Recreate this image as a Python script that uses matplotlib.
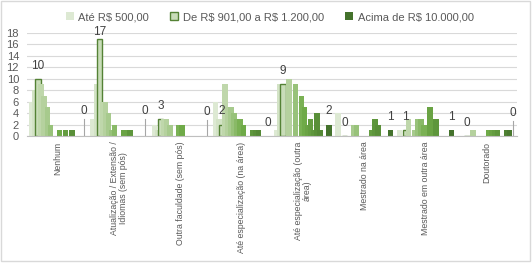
import matplotlib
matplotlib.use("Agg")
import matplotlib.pyplot as plt
from matplotlib.colors import LinearSegmentedColormap
from matplotlib.patches import Patch, Rectangle

plt.rcParams["font.family"] = ["Liberation Sans", "DejaVu Sans"]
plt.rcParams["text.parse_math"] = False  # "R$" sem mathtext

# categorias (escolaridade)
categorias = [
    "Nenhum",
    "Atualização / Extensão /\nIdiomas (sem pós)",
    "Outra faculdade (sem pós)",
    "Até especialização (na área)",
    "Até especialização (outra\nárea)",
    "Mestrado na área",
    "Mestrado em outra área",
    "Doutorado",
]

# faixas salariais (séries)
faixas = [
    "Até R$ 500,00",
    "De R$ 501,00 a R$ 900,00",
    "De R$ 901,00 a R$ 1.200,00",
    "De R$ 1.201,00 a R$ 1.500,00",
    "De R$ 1.501,00 a R$ 2.000,00",
    "De R$ 2.001,00 a R$ 2.500,00",
    "De R$ 2.501,00 a R$ 3.000,00",
    "De R$ 3.001,00 a R$ 3.500,00",
    "De R$ 3.501,00 a R$ 4.000,00",
    "De R$ 4.001,00 a R$ 4.500,00",
    "De R$ 4.501,00 a R$ 5.000,00",
    "De R$ 5.001,00 a R$ 6.000,00",
    "De R$ 6.001,00 a R$ 7.000,00",
    "De R$ 7.001,00 a R$ 8.000,00",
    "De R$ 8.001,00 a R$ 9.000,00",
    "De R$ 9.001,00 a R$ 9.500,00",
    "De R$ 9.501,00 a R$ 10.000,00",
    "Acima de R$ 10.000,00",
]

# contagens por categoria, uma posição por faixa
nenhum = [6, 8, 10, 9, 7, 5, 2, 0, 0, 1, 0, 1, 0, 1, 0, 0, 0, 0]
atualizacao = [3, 9, 17, 6, 6, 4, 1, 2, 0, 0, 1, 0, 1, 0, 0, 0, 0, 0]
outra_faculdade = [2, 1, 3, 3, 3, 2, 0, 0, 2, 2, 0, 0, 0, 0, 0, 0, 0, 0]
esp_na_area = [6, 3, 2, 9, 5, 5, 4, 3, 3, 2, 0, 0, 1, 1, 1, 0, 0, 0]
esp_outra_area = [1, 9, 9, 0, 10, 0, 9, 0, 7, 5, 2, 3, 1, 4, 1, 0, 0, 2]
mestrado_area = [4, 0, 0, 0, 0, 2, 2, 0, 0, 0, 0, 1, 3, 2, 0, 0, 0, 1]
mestrado_outra = [1, 0, 1, 3, 0, 1, 3, 3, 2, 0, 5, 0, 3, 0, 0, 0, 0, 1]
doutorado = [0, 0, 0, 0, 1, 0, 0, 0, 0, 1, 1, 1, 1, 0, 0, 1, 1, 0]

linhas = [nenhum, atualizacao, outra_faculdade, esp_na_area,
          esp_outra_area, mestrado_area, mestrado_outra, doutorado]

# faixas que aparecem na legenda / com rótulo
legenda_idx = [0, 2, 17]
destaque = 2       # série com contorno
ultima = 17
# rótulos "0" levantados com linha de chamada (Excel)
levantados = {0: 4.4, 1: 4.4, 2: 4.2, 7: 4.1}

cmap = LinearSegmentedColormap.from_list(
    "verdes", ["#dde9d3", "#b2d09b", "#72ad4a", "#5a9139", "#44722c"])
n = len(faixas)
cores = [cmap(i / (n - 1)) for i in range(n)]

passo = 0.05
largura = 0.09
inicio = -0.47

fig = plt.figure(figsize=(5.32, 2.63), dpi=100)
ax = fig.add_axes([0.0515, 0.483, 0.921, 0.3916])

for j in range(n):
    xs = [k + inicio + j * passo for k in range(len(categorias))]
    vals = [linha[j] for linha in linhas]
    if j == destaque:
        ax.bar(xs, vals, width=largura, align="edge", color=cores[j],
               edgecolor="#548235", linewidth=1.0, zorder=2)
    else:
        ax.bar(xs, vals, width=largura, align="edge", color=cores[j],
               linewidth=0, zorder=2)

# rótulos de dados
for k, linha in enumerate(linhas):
    xc = k + inicio + destaque * passo + largura / 2
    v = linha[destaque]
    ax.text(xc, min(v + 2.3, 18.2), str(v), ha="center", va="center",
            fontsize=8.5, color="#404040", zorder=5)

    xc = k + inicio + ultima * passo + largura / 2
    v = linha[ultima]
    if k in levantados:
        y = levantados[k]
        ax.plot([xc, xc], [0, y - 1.4], color="#a6a6a6", lw=0.8, zorder=4)
    else:
        y = v + 2.3
    ax.text(xc, y, str(v), ha="center", va="center",
            fontsize=8.5, color="#404040", zorder=5)

ax.set_xlim(-0.5, 7.5)
ax.set_ylim(0, 18)
ax.set_yticks(range(0, 19, 2))
ax.set_xticks(range(len(categorias)))
ax.set_xticklabels(categorias, rotation=90, va="top", ha="center",
                   fontsize=6.3, color="#595959", linespacing=0.95)
ax.tick_params(axis="x", length=0, pad=4)
ax.tick_params(axis="y", length=0, pad=6, labelsize=8, labelcolor="#595959")
ax.set_axisbelow(True)
ax.grid(axis="y", color="#d9d9d9", linewidth=0.8)
for lado in ["left", "right", "top"]:
    ax.spines[lado].set_visible(False)
ax.spines["bottom"].set_color("#bfbfbf")
ax.spines["bottom"].set_linewidth(0.8)

handles = []
for j in legenda_idx:
    if j == destaque:
        handles.append(Patch(facecolor=cores[j], edgecolor="#548235", linewidth=1.0))
    else:
        handles.append(Patch(facecolor=cores[j], edgecolor="none"))
fig.legend(handles, [faixas[j] for j in legenda_idx], loc="center",
           bbox_to_anchor=(0.507, 0.935), ncol=3, frameon=False, fontsize=8,
           handlelength=0.75, handleheight=0.75, handletextpad=0.4,
           columnspacing=1.9, labelcolor="#595959")

fig.add_artist(Rectangle((0.002, 0.008), 0.994, 0.99, transform=fig.transFigure,
                         fill=False, edgecolor="#d9d9d9", linewidth=1.0))

fig.savefig("out.png", dpi=100)
